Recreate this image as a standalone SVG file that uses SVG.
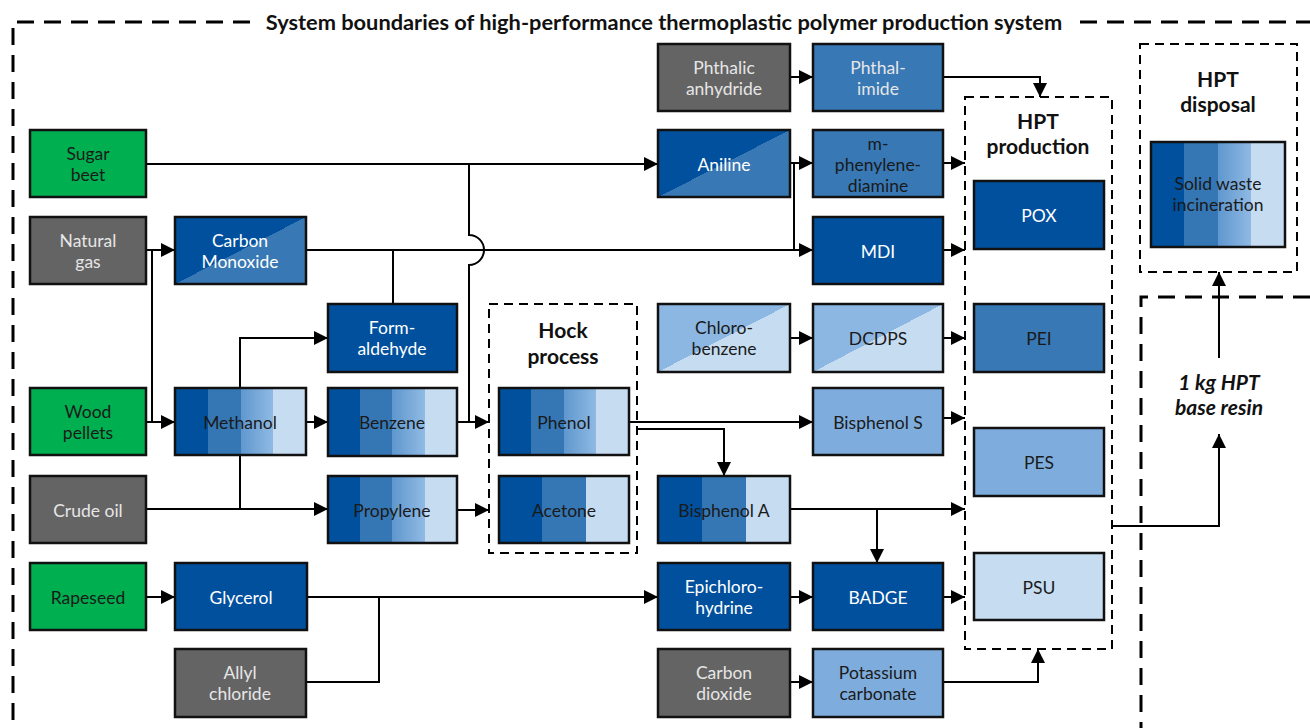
<svg xmlns="http://www.w3.org/2000/svg" width="1310" height="728" viewBox="0 0 1310 728">
<defs>
<linearGradient id="band4" x1="0" y1="0" x2="1" y2="0">
<stop offset="0" stop-color="#00509e"/><stop offset="0.25" stop-color="#00509e"/>
<stop offset="0.25" stop-color="#3577b4"/><stop offset="0.5" stop-color="#3577b4"/>
<stop offset="0.5" stop-color="#5f97ce"/><stop offset="0.75" stop-color="#90bae4"/>
<stop offset="0.75" stop-color="#c6dcf1"/><stop offset="1" stop-color="#c6dcf1"/>
</linearGradient>
<linearGradient id="band3" x1="0" y1="0" x2="1" y2="0">
<stop offset="0" stop-color="#00509e"/><stop offset="0.333" stop-color="#00509e"/>
<stop offset="0.333" stop-color="#3577b4"/><stop offset="0.667" stop-color="#3577b4"/>
<stop offset="0.667" stop-color="#c6dcf1"/><stop offset="1" stop-color="#c6dcf1"/>
</linearGradient>
<linearGradient id="diagDark" x1="0" y1="0" x2="1" y2="1">
<stop offset="0.5" stop-color="#00509e"/><stop offset="0.5" stop-color="#3778b5"/>
</linearGradient>
<linearGradient id="diagLight" x1="0" y1="0" x2="1" y2="1">
<stop offset="0.5" stop-color="#8cb7e2"/><stop offset="0.5" stop-color="#c6dcf1"/>
</linearGradient>
<marker id="arr" markerUnits="userSpaceOnUse" markerWidth="14" markerHeight="14" refX="14" refY="7" orient="auto" viewBox="0 0 14 14">
<path d="M0,0 L14,7 L0,14 z" fill="#000"/>
</marker>
<style>
.box{stroke:#111;stroke-width:2.5}
.green{fill:#00b050}
.gray{fill:#646464}
.dark{fill:#00509e}
.med{fill:#3778b5}
.lmed{fill:#7eaddd}
.vlight{fill:#c6dcf1}
.b4{fill:url(#band4)}
.b3{fill:url(#band3)}
.dd{fill:url(#diagDark)}
.dl{fill:url(#diagLight)}
text{font-family:Lato,"Open Sans","Liberation Sans",sans-serif;font-size:17.5px;text-anchor:middle}
.tw{fill:#ffffff}
.tg{fill:#e6e6e6}
.tk{fill:#1a1a1a}
.title{font-weight:bold;font-size:21px;fill:#111}
.bound{fill:none;stroke:#000;stroke-width:3;stroke-dasharray:17 10}
.sub{fill:none;stroke:#000;stroke-width:2;stroke-dasharray:9 6}
.con path{fill:none;stroke:#000;stroke-width:2}
.a{marker-end:url(#arr)}
</style>
</defs>
<rect width="1310" height="728" fill="#fff"/>

<g id="boundaries">
<path class="bound" d="M250,22 H13 V728"/>
<path class="bound" d="M1080,22 H1310"/>
<path class="bound" d="M1310,297 H1141 V728"/>
<text x="664" y="30" class="title" style="font-size:21.8px">System boundaries of high-performance thermoplastic polymer production system</text>
</g>

<g id="hock">
<rect class="sub" x="489" y="304" width="148" height="249"/>
<text class="title" x="563" y="338">Hock</text>
<text class="title" x="563" y="364">process</text>
</g>
<g id="hpt-production">
<rect class="sub" x="965" y="97" width="147" height="552"/>
<text class="title" x="1038" y="129">HPT</text>
<text class="title" x="1038" y="154">production</text>
</g>
<g id="hpt-disposal">
<rect class="sub" x="1140" y="44" width="157" height="228"/>
<text class="title" x="1218" y="87">HPT</text>
<text class="title" x="1218" y="112">disposal</text>
</g>

<g id="connectors" class="con">
<path class="a" d="M790,77 H813"/>
<path class="a" d="M943,77 H1040 V97"/>
<path class="a" d="M146,164 H658"/>
<path d="M469,164 V235 A15,15 0 0 1 469,265 V422"/>
<path class="a" d="M790,163 H813"/>
<path d="M794,163 V250"/>
<path class="a" d="M146,250 H175"/>
<path d="M152,250 V422"/>
<path class="a" d="M306,250 H813"/>
<path d="M393,304 V250"/>
<path class="a" d="M943,163 H965"/>
<path class="a" d="M943,250 H965"/>
<path class="a" d="M790,338 H813"/>
<path class="a" d="M943,338 H965"/>
<path class="a" d="M146,422 H175"/>
<path class="a" d="M240,388 V338 H328"/>
<path class="a" d="M306,422 H328"/>
<path class="a" d="M457,422 H489"/>
<path class="a" d="M629,422 H813"/>
<path class="a" d="M636,429 H724 V476"/>
<path class="a" d="M943,418 H965"/>
<path d="M240,455 V509"/>
<path class="a" d="M146,509 H328"/>
<path class="a" d="M457,510 H489"/>
<path class="a" d="M790,509 H965"/>
<path class="a" d="M877,509 V563"/>
<path class="a" d="M146,597 H175"/>
<path class="a" d="M307,597 H658"/>
<path d="M305,682 H379 V597"/>
<path class="a" d="M790,597 H813"/>
<path class="a" d="M943,597 H965"/>
<path class="a" d="M790,682 H813"/>
<path class="a" d="M943,682 H1038 V649"/>
<path class="a" d="M1112,526 H1219 V434"/>
<path class="a" d="M1219,358 V272"/>
</g>

<g id="n-phthalic"><rect class="box gray" x="658" y="44" width="132" height="67"/><text class="tg" x="724" y="73.5">Phthalic</text><text class="tg" x="724" y="94.5">anhydride</text></g>
<g id="n-phthalimide"><rect class="box med" x="813" y="44" width="130" height="67"/><text class="tg" x="878" y="73.5">Phthal-</text><text class="tg" x="878" y="94.5">imide</text></g>
<g id="n-sugarbeet"><rect class="box green" x="30" y="130" width="116" height="67"/><text class="tk" x="88" y="159.5">Sugar</text><text class="tk" x="88" y="180.5">beet</text></g>
<g id="n-aniline"><rect class="box dd" x="658" y="130" width="132" height="67"/><text class="tw" x="724" y="170.5">Aniline</text></g>
<g id="n-mpda"><rect class="box med" x="813" y="130" width="130" height="67"/><text class="tk" x="878" y="150">m-</text><text class="tk" x="878" y="171">phenylene-</text><text class="tk" x="878" y="192">diamine</text></g>
<g id="n-naturalgas"><rect class="box gray" x="30" y="217" width="116" height="67"/><text class="tg" x="88" y="246.5">Natural</text><text class="tg" x="88" y="267.5">gas</text></g>
<g id="n-co"><rect class="box dd" x="175" y="217" width="131" height="67"/><text class="tw" x="240" y="246.5">Carbon</text><text class="tw" x="240" y="267.5">Monoxide</text></g>
<g id="n-mdi"><rect class="box dark" x="813" y="217" width="130" height="67"/><text class="tw" x="878" y="257.5">MDI</text></g>
<g id="n-formaldehyde"><rect class="box dark" x="328" y="304" width="129" height="68"/><text class="tw" x="392" y="334">Form-</text><text class="tw" x="392" y="355">aldehyde</text></g>
<g id="n-chlorobenzene"><rect class="box dl" x="658" y="304" width="132" height="68"/><text class="tk" x="724" y="334">Chloro-</text><text class="tk" x="724" y="355">benzene</text></g>
<g id="n-dcdps"><rect class="box dl" x="813" y="304" width="130" height="68"/><text class="tk" x="878" y="345">DCDPS</text></g>
<g id="n-woodpellets"><rect class="box green" x="30" y="388" width="116" height="67"/><text class="tk" x="88" y="417.5">Wood</text><text class="tk" x="88" y="438.5">pellets</text></g>
<g id="n-methanol"><rect class="box b4" x="175" y="388" width="131" height="67"/><text class="tk" x="240" y="428.5">Methanol</text></g>
<g id="n-benzene"><rect class="box b4" x="328" y="388" width="129" height="68"/><text class="tk" x="392" y="429">Benzene</text></g>
<g id="n-phenol"><rect class="box b4" x="499" y="388" width="130" height="67"/><text class="tk" x="564" y="428.5">Phenol</text></g>
<g id="n-bisphenols"><rect class="box lmed" x="813" y="388" width="130" height="67"/><text class="tk" x="878" y="428.5">Bisphenol S</text></g>
<g id="n-crudeoil"><rect class="box gray" x="30" y="476" width="116" height="67"/><text class="tg" x="88" y="516.5">Crude oil</text></g>
<g id="n-propylene"><rect class="box b4" x="328" y="476" width="129" height="67"/><text class="tk" x="392" y="516.5">Propylene</text></g>
<g id="n-acetone"><rect class="box b3" x="499" y="476" width="130" height="67"/><text class="tk" x="564" y="516.5">Acetone</text></g>
<g id="n-bisphenola"><rect class="box b3" x="658" y="476" width="132" height="67"/><text class="tk" x="724" y="516.5">Bisphenol A</text></g>
<g id="n-rapeseed"><rect class="box green" x="30" y="563" width="116" height="67"/><text class="tk" x="88" y="603.5">Rapeseed</text></g>
<g id="n-glycerol"><rect class="box dark" x="175" y="563" width="132" height="67"/><text class="tw" x="241" y="603.5">Glycerol</text></g>
<g id="n-epichlorohydrine"><rect class="box dark" x="658" y="563" width="132" height="67"/><text class="tw" x="724" y="592.5">Epichloro-</text><text class="tw" x="724" y="613.5">hydrine</text></g>
<g id="n-badge"><rect class="box dark" x="813" y="563" width="130" height="67"/><text class="tw" x="878" y="603.5">BADGE</text></g>
<g id="n-allyl"><rect class="box gray" x="175" y="649" width="131" height="68"/><text class="tg" x="240" y="679">Allyl</text><text class="tg" x="240" y="700">chloride</text></g>
<g id="n-co2"><rect class="box gray" x="658" y="649" width="132" height="68"/><text class="tg" x="724" y="679">Carbon</text><text class="tg" x="724" y="700">dioxide</text></g>
<g id="n-k2co3"><rect class="box lmed" x="813" y="649" width="130" height="68"/><text class="tk" x="878" y="679">Potassium</text><text class="tk" x="878" y="700">carbonate</text></g>
<g id="n-pox"><rect class="box dark" x="974" y="181" width="130" height="68"/><text class="tw" x="1039" y="222">POX</text></g>
<g id="n-pei"><rect class="box med" x="974" y="304" width="130" height="68"/><text class="tk" x="1039" y="345">PEI</text></g>
<g id="n-pes"><rect class="box lmed" x="974" y="428" width="130" height="68"/><text class="tk" x="1039" y="469">PES</text></g>
<g id="n-psu"><rect class="box vlight" x="974" y="553" width="130" height="67"/><text class="tk" x="1039" y="593.5">PSU</text></g>
<g id="n-incineration"><rect class="box b4" x="1151" y="142" width="134" height="105"/><text class="tk" x="1218" y="190">Solid waste</text><text class="tk" x="1218" y="211">incineration</text></g>
<g id="t-resin"><text class="title" style="font-style:italic;font-size:21px" x="1219" y="390">1 kg HPT</text><text class="title" style="font-style:italic;font-size:21px" x="1219" y="415">base resin</text></g>
</svg>
